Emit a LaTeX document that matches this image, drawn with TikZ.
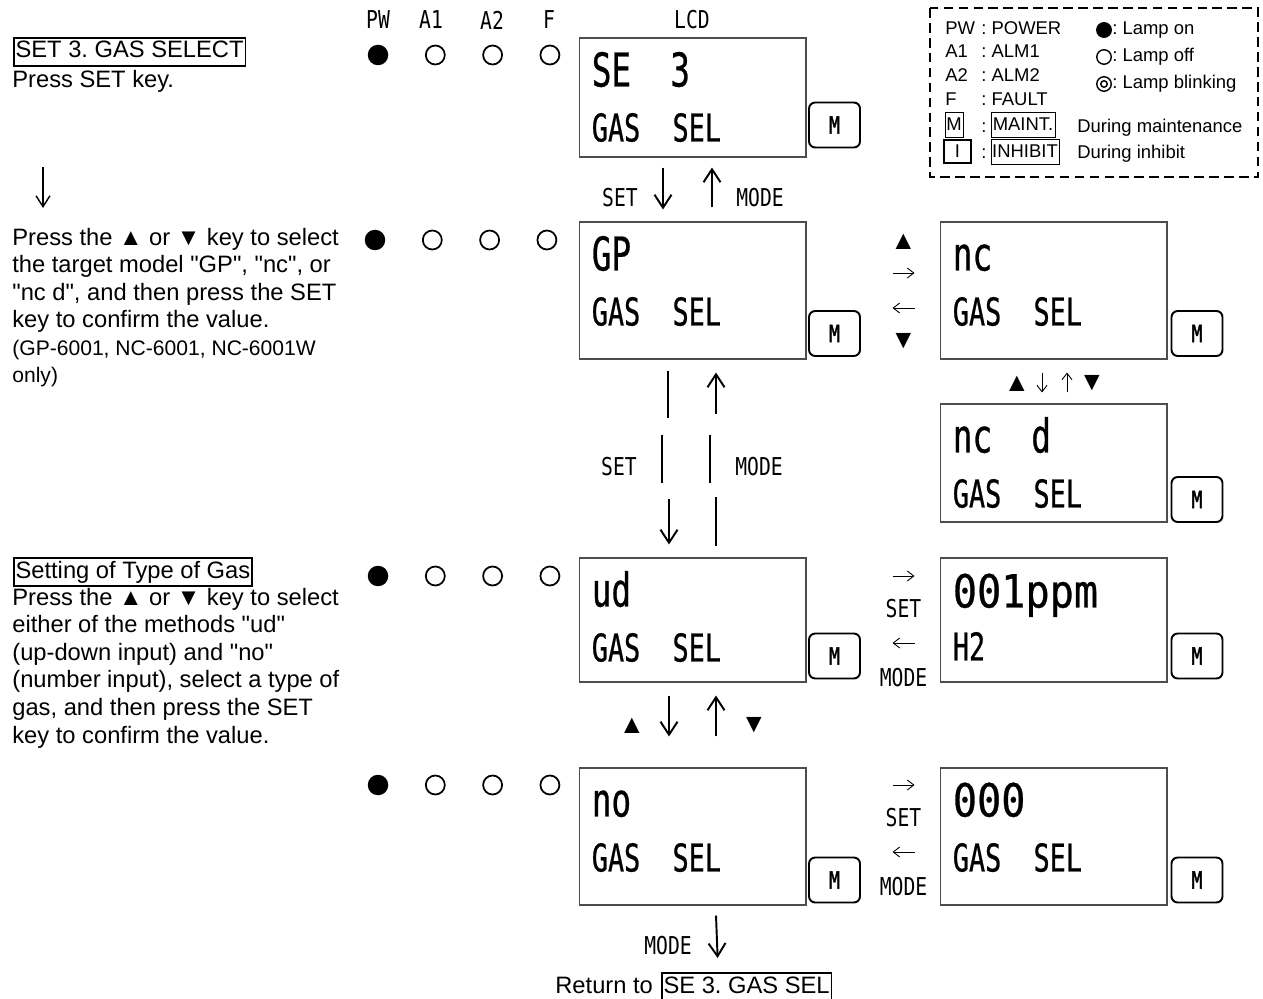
\documentclass[tikz,border=0pt]{standalone}
\usepackage{fontspec}
\setmainfont{Liberation Sans}[Ligatures=TeXOff]
\newfontfamily\lcdfont[FakeStretch=0.7,FakeBold=0.6]{DejaVu Sans Mono}
\newfontfamily\widefont[FakeStretch=0.88,FakeBold=0.6]{DejaVu Sans Mono}
\newfontfamily\keyfont[FakeStretch=0.8]{DejaVu Sans Mono}
\newfontfamily\mfont[FakeStretch=0.75,FakeBold=1.8]{DejaVu Sans Mono}
\usetikzlibrary{arrows.meta,calc,positioning}
\definecolor{ink}{HTML}{000000}
\definecolor{rim}{HTML}{4D4D4D}
\newcommand\qq[1]{\char34#1\char34}
\frenchspacing
\tikzset{
  lcd/.style={draw=rim,line width=0.6pt,minimum width=4.54cm,inner sep=0pt},
  big/.style={font=\lcdfont\fontsize{26.5}{30}\selectfont,anchor=base west,inner sep=0pt},
  sml/.style={font=\lcdfont\fontsize{21.8}{26}\selectfont,anchor=base west,inner sep=0pt},
  wide/.style={font=\widefont\fontsize{26}{30}\selectfont,anchor=base west,inner sep=0pt},
  mkey/.style={draw=ink,line width=1.1pt,rounded corners=3.5pt,minimum width=1.02cm,minimum height=0.9cm,inner sep=0pt,font=\mfont\fontsize{13.5}{13.5}\selectfont},
  klbl/.style={font=\keyfont\fontsize{14}{14}\selectfont,inner sep=0pt},
  ledon/.style={circle,fill=ink,minimum size=0.41cm,inner sep=0pt},
  ledoff/.style={circle,draw=ink,line width=1pt,minimum size=0.38cm,inner sep=0pt},
  txt/.style={font=\fontsize{13.5}{15.7}\selectfont,anchor=base west,inner sep=0pt,align=left},
  note/.style={font=\fontsize{12}{15.6}\selectfont,anchor=base west,inner sep=0pt,align=left},
  hbox/.style={draw=ink,line width=0.9pt,inner xsep=1pt,inner ysep=1.5pt,text height=10pt,text depth=3pt,anchor=base west,font=\fontsize{13.5}{15.7}\selectfont},
  karrow/.style={ink,line width=1.1pt,-{Straight Barb[length=2.6mm,width=3.4mm]}},
  marrow/.style={ink,line width=0.8pt,-{Straight Barb[length=2.2mm,width=2.8mm]}},
  tarrow/.style={ink,line width=0.5pt,-{Straight Barb[length=1.3mm,width=2mm]}},
  brk/.style={ink,line width=1.4pt},
  tri/.style={font=\fontsize{15}{15}\selectfont,inner sep=0pt},
  lg/.style={font=\fontsize{10.5}{12}\selectfont,anchor=base west,inner sep=0pt},
  lgbox/.style={draw=ink,line width=0.5pt,inner sep=0pt,minimum height=0.5cm,font=\fontsize{10.5}{12}\selectfont},
  lamp/.style={circle,draw=ink,line width=0.8pt,minimum size=0.29cm,inner sep=0pt},
}

\begin{document}
\begin{tikzpicture}[x=0.02cm,y=-0.02cm]
  \useasboundingbox (0,0) rectangle (1263,999);
  % ===================== legend =====================
  \draw[ink,line width=1.5pt,dash pattern=on 5.5pt off 3pt] (930,8) rectangle (1258,177);
  \node[lg] (kpw) at (945,35) {PW};
  \node[lg] at (981,35) {: POWER};
  \node[lg] (ka1) at (945,58) {A1};
  \node[lg] at (981,58) {: ALM1};
  \node[lg] (ka2) at (945,82) {A2};
  \node[lg] at (981,82) {: ALM2};
  \node[lg] (kf) at (945,106) {F};
  \node[lg] at (981,106) {: FAULT};
  \node[lgbox,minimum width=0.36cm] (km) at (954,124.5) {M};
  \node[lg] at (981,133) {:};
  \node[lgbox,minimum width=1.28cm] (kmaint) at (1023,124.5) {MAINT.};
  \node[lgbox,line width=1.2pt,minimum width=0.54cm,minimum height=0.46cm] (ki) at (957.5,151.5) {I};
  \node[lg] at (981,159) {:};
  \node[lgbox,minimum width=1.36cm] (kinh) at (1025,151.5) {INHIBIT};
  \node[lg] at (1077,133) {During maintenance};
  \node[lg] at (1077,159) {During inhibit};
  \node[lamp,fill=ink] (lon) at (1104,30) {};
  \node[lg] at (1112,35) {: Lamp on};
  \node[lamp] (loff) at (1104,57) {};
  \node[lg] at (1112,62) {: Lamp off};
  \node[lamp] (lblk) at (1104,84) {};
  \node[circle,draw=ink,line width=0.8pt,minimum size=0.13cm,inner sep=0pt] at (lblk) {};
  \node[lg] at (1112,89) {: Lamp blinking};

  % ===================== lamps =====================
  \node[klbl] (hpw) at (378,20) {PW};
  \node[klbl] (ha1) at (431,20) {A1};
  \node[klbl] (ha2) at (492,20) {A2};
  \node[klbl] (hf) at (549,20) {F};
  \node[klbl] (hlcd) at (692,20) {LCD};
  \foreach \r/\y/\p in {1/55/378,2/240/375,3/576/378,4/785/378} {
    \node[ledon] (pw\r) at (\p,\y) {};
    \foreach \n/\k in {a1/1,a2/2,f/3}
      \node[ledoff] (\n\r) at (\p+57.3*\k,\y) {};
  }

  % ===================== left column =====================
  \node[hbox] (t1h) at (13,58) {SET 3. GAS SELECT};
  \node[txt] (t1) at (12,88) {Press SET key.};
  \node[txt] (t2) at (12,328) {Press the ▲ or ▼ key to select\\the target model \qq{GP}, \qq{nc}, or\\\qq{nc d}, and then press the SET\\key to confirm the value.};
  \node[note] (t2n) at (12,383) {(GP-6001, NC-6001, NC-6001W\\only)};
  \draw[marrow] ($(t1.base west)+(31,79)$) -- ++(0,41);
  \node[hbox] (t3h) at (13,578) {Setting of Type of Gas};
  \node[txt] (t3) at (12,743) {Press the ▲ or ▼ key to select\\either of the methods \qq{ud}\\(up-down input) and \qq{no}\\(number input), select a type of\\gas, and then press the SET\\key to confirm the value.};

  % ===================== displays =====================
  \node[lcd,minimum height=2.38cm] (se3) at (692.5,97.5) {};
  \node[big] at ($(se3.north west)+(13,49)$) {SE~~3};
  \node[sml] at ($(se3.north west)+(13,104)$) {GAS~~SEL};
  \node[mkey] (se3m) at (834.5,125) {M};

  \node[lcd,minimum height=2.74cm] (gp) at (692.5,290.5) {};
  \node[big] at ($(gp.north west)+(13,49)$) {GP};
  \node[sml] at ($(gp.north west)+(13,104)$) {GAS~~SEL};
  \node[mkey] (gpm) at (834.5,333.5) {M};

  \node[lcd,minimum height=2.74cm] (nc) at (1053.5,290.5) {};
  \node[big] at ($(nc.north west)+(13,49)$) {nc};
  \node[sml] at ($(nc.north west)+(13,104)$) {GAS~~SEL};
  \node[mkey] (ncm) at (1197,333.5) {M};

  \node[lcd,minimum height=2.36cm] (ncd) at (1053.5,463) {};
  \node[big] at ($(ncd.north west)+(13,49)$) {nc~~d};
  \node[sml] at ($(ncd.north west)+(13,104)$) {GAS~~SEL};
  \node[mkey] (ncdm) at (1197,499.5) {M};

  \node[lcd,minimum height=2.48cm] (ud) at (692.5,620) {};
  \node[big] at ($(ud.north west)+(13,49)$) {ud};
  \node[sml] at ($(ud.north west)+(13,104)$) {GAS~~SEL};
  \node[mkey] (udm) at (834.5,656) {M};

  \node[lcd,minimum height=2.48cm] (ppm) at (1053.5,620) {};
  \node[wide] at ($(ppm.north west)+(13,50)$) {001ppm};
  \node[sml] at ($(ppm.north west)+(13,103)$) {H2};
  \node[mkey] (ppmm) at (1197,656) {M};

  \node[lcd,minimum height=2.74cm] (no) at (692.5,836.5) {};
  \node[big] at ($(no.north west)+(13,49)$) {no};
  \node[sml] at ($(no.north west)+(13,104)$) {GAS~~SEL};
  \node[mkey] (nom) at (834.5,880) {M};

  \node[lcd,minimum height=2.74cm] (zero) at (1053.5,836.5) {};
  \node[wide] at ($(zero.north west)+(13,49)$) {000};
  \node[sml] at ($(zero.north west)+(13,104)$) {GAS~~SEL};
  \node[mkey] (zerom) at (1197,880) {M};

  % ===================== key moves =====================
  % SE 3 <-> GP
  \node[klbl] at ($(se3.south)+(-72.5,40)$) {SET};
  \node[klbl] at ($(se3.south)+(67.5,40)$) {MODE};
  \draw[karrow] ($(se3.south)+(-29.5,10)$) -- ($(gp.north)+(-29.5,-12)$);
  \draw[karrow] ($(gp.north)+(19.5,-14)$) -- ($(se3.south)+(19.5,10)$);
  % GP <-> ud (broken arrows)
  \draw[brk] ($(gp.south)+(-24.5,11)$) -- ++(0,47);
  \draw[brk] ($(gp.south)+(-30.5,75)$) -- ++(0,48);
  \draw[karrow] ($(ud.north)+(-23.5,-58)$) -- ($(ud.north)+(-23.5,-13)$);
  \draw[karrow] ($(gp.south)+(23.5,54)$) -- ($(gp.south)+(23.5,13)$);
  \draw[brk] ($(gp.south)+(17.5,75)$) -- ++(0,48);
  \draw[brk] ($(ud.north)+(23.5,-60)$) -- ($(ud.north)+(23.5,-11)$);
  \node[klbl] at ($(gp.south)+(-73.5,107)$) {SET};
  \node[klbl] at ($(gp.south)+(66.5,107)$) {MODE};
  % GP <-> nc
  \node[tri] at ($(gp.east)+(97,-48.5)$) {▲};
  \draw[tarrow] ($(gp.east)+(86,-17.5)$) -- ($(nc.west)+(-25,-17.5)$);
  \draw[tarrow] ($(nc.west)+(-25,17.5)$) -- ($(gp.east)+(86,17.5)$);
  \node[tri] at ($(gp.east)+(97,50.5)$) {▼};
  % nc <-> nc d
  \node[tri] at ($(nc.south)+(-36.5,24)$) {▲};
  \draw[tarrow] ($(nc.south)+(-11.5,13)$) -- ($(ncd.north)+(-11.5,-11)$);
  \draw[tarrow] ($(ncd.north)+(13.5,-11)$) -- ($(nc.south)+(13.5,13)$);
  \node[tri] at ($(nc.south)+(38.5,24)$) {▼};
  % ud <-> 001ppm
  \draw[tarrow] ($(ud.east)+(86,-44)$) -- ($(ppm.west)+(-25,-44)$);
  \node[klbl] at ($(ud.east)+(97,-11)$) {SET};
  \draw[tarrow] ($(ppm.west)+(-25,23)$) -- ($(ud.east)+(86,23)$);
  \node[klbl] at ($(ud.east)+(97,58)$) {MODE};
  % ud <-> no
  \node[tri] at ($(ud.south)+(-60.5,43)$) {▲};
  \draw[karrow] ($(ud.south)+(-23.5,13)$) -- ($(no.north)+(-23.5,-31)$);
  \draw[karrow] ($(no.north)+(23.5,-31)$) -- ($(ud.south)+(23.5,13)$);
  \node[tri] at ($(ud.south)+(61.5,43)$) {▼};
  % no <-> 000
  \draw[tarrow] ($(no.east)+(86,-51.5)$) -- ($(zero.west)+(-25,-51.5)$);
  \node[klbl] at ($(no.east)+(97,-18.5)$) {SET};
  \draw[tarrow] ($(zero.west)+(-25,15.5)$) -- ($(no.east)+(86,15.5)$);
  \node[klbl] at ($(no.east)+(97,50.5)$) {MODE};
  % back to the top
  \node[txt] (rt) at (555,993) {Return to};
  \node[hbox] (ret) at (661,993) {SE 3. GAS SEL};
  \node[klbl] at ($(no.south)+(-24.5,40)$) {MODE};
  \draw[karrow] ($(no.south)+(23.5,10)$) -- ($(ret.north)+(-29,-14)$);
\end{tikzpicture}
\end{document}
